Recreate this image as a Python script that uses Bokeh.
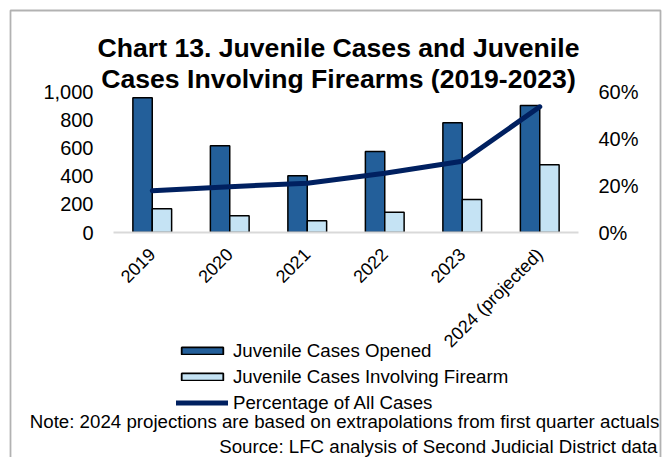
import math
from bokeh.plotting import figure
from bokeh.models import (FactorRange, Range1d, LinearAxis, FixedTicker, NumeralTickFormatter,
                          ColumnDataSource, Legend, LegendItem, Label, BoxAnnotation)
from bokeh.transform import dodge
from bokeh.embed import file_html
from bokeh.resources import INLINE

# ---- data ----
years = ["2019", "2020", "2021", "2022", "2023", "2024 (projected)"]
cases_opened = [955, 615, 402, 574, 778, 901]
firearm_cases = [168, 118, 83, 144, 234, 480]
pct_of_all = [0.178, 0.195, 0.21, 0.252, 0.303, 0.535]
left_ticks = [0, 200, 400, 600, 800, 1000]
right_ticks = [0, 0.2, 0.4, 0.6]

title_lines = ["Chart 13. Juvenile Cases and Juvenile",
               "Cases Involving Firearms (2019-2023)"]
legend_labels = ["Juvenile Cases Opened", "Juvenile Cases Involving Firearm",
                 "Percentage of All Cases"]
note_text = "Note: 2024 projections are based on extrapolations from first quarter actuals"
source_text = "Source: LFC analysis of Second Judicial District data"

# ---- styles ----
W, H = 667, 457
FL, FR, FT, FB = 113, 578, 91, 232
FONT = "Liberation Sans"
DARK = "#235F9A"
LIGHT = "#C5E3F4"
NAVY = "#002060"
SMALL = "18.7px"

# ================= main chart =================
p = figure(width=W, height=H, title=None,
           x_range=FactorRange(factors=years, range_padding=0),
           y_range=Range1d(0, 1000),
           output_backend="svg", toolbar_location=None,
           min_border_left=FL, min_border_right=W - FR,
           min_border_top=FT, min_border_bottom=H - FB)
p.outline_line_color = None
p.xgrid.visible = False
p.ygrid.visible = False
p.background_fill_color = "white"
p.border_fill_color = "white"

p.extra_y_ranges = {"pct": Range1d(0, 0.6)}
p.yaxis.ticker = FixedTicker(ticks=left_ticks)
p.yaxis.formatter = NumeralTickFormatter(format="0,0")
rax = LinearAxis(y_range_name="pct", ticker=FixedTicker(ticks=right_ticks),
                 formatter=NumeralTickFormatter(format="0%"))
p.add_layout(rax, "right")

for ax in [p.yaxis[0], rax]:
    ax.axis_line_color = None
    ax.major_tick_line_color = None
    ax.minor_tick_line_color = None
    ax.major_tick_out = 0
    ax.major_tick_in = 0
    ax.major_label_standoff = 20
    ax.major_label_text_font = FONT
    ax.major_label_text_font_size = "20px"
    ax.major_label_text_color = "black"

xa = p.xaxis[0]
xa.axis_line_color = "#D9D9D9"
xa.axis_line_width = 2
xa.major_tick_line_color = None
xa.minor_tick_line_color = None
xa.major_tick_out = 0
xa.major_tick_in = 0
xa.major_label_orientation = math.pi / 4
xa.major_label_standoff = 19
xa.major_label_text_font = FONT
xa.major_label_text_font_size = "18px"
xa.major_label_text_color = "black"

src = ColumnDataSource(dict(year=years, opened=cases_opened,
                            firearm=firearm_cases, pct=pct_of_all))
p.vbar(x=dodge("year", -0.125, range=p.x_range), top="opened", width=0.25,
       source=src, fill_color=DARK, line_color="black", line_width=1.5)
p.vbar(x=dodge("year", 0.125, range=p.x_range), top="firearm", width=0.25,
       source=src, fill_color=LIGHT, line_color="black", line_width=1.5)
p.line(x="year", y="pct", y_range_name="pct", source=src,
       line_color=NAVY, line_width=5, line_cap="round", line_join="round")

# ================= overlay (title, legend, notes, border) =================
o = figure(width=W, height=H, title=None,
           x_range=Range1d(0, W), y_range=Range1d(H, 0),
           x_axis_location=None, y_axis_location=None,
           output_backend="svg", toolbar_location=None, min_border=0)
o.outline_line_color = None
o.xgrid.visible = False
o.ygrid.visible = False
o.background_fill_alpha = 0
o.border_fill_alpha = 0
o.styles = {"position": "absolute", "top": "0px", "left": "0px"}

# legend proxies (no visible data)
proxy = ColumnDataSource(dict(x=[float("nan")], top=[float("nan")], y=[float("nan")]))
g1 = o.vbar(x="x", top="top", width=1, source=proxy, fill_color=DARK,
            line_color="black", line_width=1.8)
g2 = o.vbar(x="x", top="top", width=1, source=proxy, fill_color=LIGHT,
            line_color="black", line_width=1.8)
g3 = o.line(x="x", y="y", source=proxy, line_color=NAVY, line_width=5, line_cap="round")

legend = Legend(items=[LegendItem(label=legend_labels[0], renderers=[g1]),
                       LegendItem(label=legend_labels[1], renderers=[g2]),
                       LegendItem(label=legend_labels[2], renderers=[g3])],
                location=(176, 43.5), orientation="vertical",
                glyph_width=52, glyph_height=9, label_height=21, spacing=4,
                label_standoff=5, padding=0, margin=0,
                label_text_font=FONT, label_text_font_size=SMALL,
                label_text_color="black",
                border_line_color=None, background_fill_alpha=0)
o.add_layout(legend)

for ln, yy in zip(title_lines, [47.5, 78.0]):
    o.add_layout(Label(x=338, y=yy, text=ln, text_align="center",
                       text_baseline="alphabetic", text_font=FONT,
                       text_font_style="bold", text_font_size="26.6px",
                       text_color="black"))
o.add_layout(Label(x=344, y=420.5, text=note_text, text_align="center",
                   text_baseline="alphabetic", text_font=FONT,
                   text_font_size=SMALL, text_color="black"))
o.add_layout(Label(x=657, y=446, text=source_text, text_align="right",
                   text_baseline="alphabetic", text_font=FONT,
                   text_font_size=SMALL, text_color="black"))

o.add_layout(BoxAnnotation(left=10, right=660, top=10, bottom=520,
                           fill_alpha=0, line_color="black", line_width=1.8))

open("out.html", "w").write(file_html([p, o], INLINE))
